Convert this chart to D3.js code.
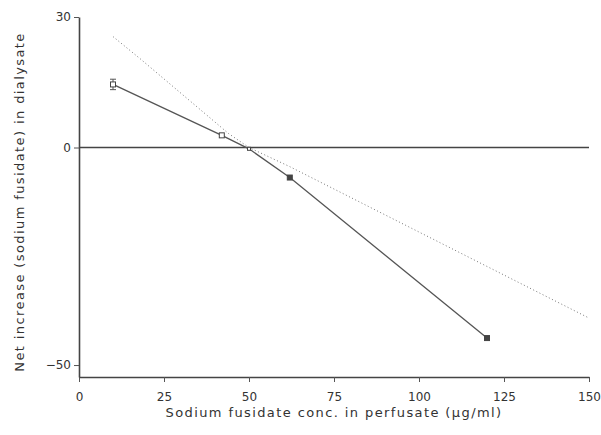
<!DOCTYPE html>
<html>
<head>
<meta charset="utf-8">
<script src="https://cdn.jsdelivr.net/npm/d3@7"></script>
<style>
  body { margin: 0; background: #fff; }
  svg { display: block; }
  text { font-family: "DejaVu Sans", sans-serif; fill: #333; }
</style>
</head>
<body>
<svg width="601" height="435"></svg>
<script>
// measured points (x = perfusate conc., y = net increase in dialysate)
const concs = [10, 42, 50, 62, 120];
const netIncrease = [14.5, 2.8, -0.3, -6.9, -43.8];
const errors = [1.2, 0, 0, 0, 0];
const symbols = ["open", "open", "tiny", "filled", "filled"];

// dotted reference curve
const refX = [10, 18, 44, 50, 62, 150];
const refY = [25.5, 20.4, 3.2, 0, -4.4, -39.2];

const xTicks = [0, 25, 50, 75, 100, 125, 150];
const yTicks = [-50, 0, 30];

const svg = d3.select("svg");

const x = d3.scaleLinear().domain([0, 150]).range([79, 589]);
const y = d3.scaleLinear().domain([-52.75, 30]).range([377, 17]);

// axes
const xAxis = svg.append("g")
    .attr("transform", `translate(0,${y(-52.75)})`)
    .call(d3.axisBottom(x).tickValues(xTicks).tickSize(5).tickSizeOuter(0));
const yAxis = svg.append("g")
    .attr("transform", `translate(${x(0)},0)`)
    .call(d3.axisLeft(y).tickValues(yTicks).tickSize(5).tickSizeOuter(0));

[xAxis, yAxis].forEach(g => {
  g.select(".domain").attr("stroke", "#444").attr("stroke-width", 1.6);
  g.selectAll(".tick line").attr("stroke", "#555");
  g.selectAll(".tick text")
    .style("font-family", "'DejaVu Sans', sans-serif")
    .style("font-size", "12px")
    .attr("fill", "#444");
});
xAxis.selectAll(".tick text").attr("dy", "1.3em");

// zero line
svg.append("line")
    .attr("x1", x(0)).attr("x2", x(150))
    .attr("y1", y(0)).attr("y2", y(0))
    .attr("stroke", "#444").attr("stroke-width", 1.4);

// dotted reference
const refData = refX.map((v, i) => ({x: v, y: refY[i]}));
svg.append("path")
    .datum(refData)
    .attr("fill", "none")
    .attr("stroke", "#777")
    .attr("stroke-width", 1)
    .attr("stroke-dasharray", "1,2.5")
    .attr("d", d3.line().x(d => x(d.x)).y(d => y(d.y)));

// measured line
const data = concs.map((v, i) => ({x: v, y: netIncrease[i], e: errors[i], s: symbols[i]}));
svg.append("path")
    .datum(data)
    .attr("fill", "none")
    .attr("stroke", "#555")
    .attr("stroke-width", 1.3)
    .attr("d", d3.line().x(d => x(d.x)).y(d => y(d.y)));

// error bars
data.filter(d => d.e > 0).forEach(d => {
  const g = svg.append("g").attr("stroke", "#555").attr("stroke-width", 1);
  g.append("line").attr("x1", x(d.x)).attr("x2", x(d.x))
    .attr("y1", y(d.y + d.e)).attr("y2", y(d.y - d.e));
  [d.y + d.e, d.y - d.e].forEach(v => {
    g.append("line").attr("x1", x(d.x) - 3).attr("x2", x(d.x) + 3)
      .attr("y1", y(v)).attr("y2", y(v));
  });
});

// symbols
svg.selectAll(".pt")
  .data(data)
  .enter().append("rect")
    .attr("class", "pt")
    .attr("x", d => x(d.x) - (d.s === "tiny" ? 1.5 : 2.5))
    .attr("y", d => y(d.y) - (d.s === "tiny" ? 1.5 : 2.5))
    .attr("width", d => d.s === "tiny" ? 3 : 5)
    .attr("height", d => d.s === "tiny" ? 3 : 5)
    .attr("fill", d => d.s === "filled" ? "#444" : "#fff")
    .attr("stroke", "#444")
    .attr("stroke-width", 1);

// axis titles
svg.append("text")
    .attr("x", 334).attr("y", 417)
    .attr("text-anchor", "middle")
    .style("font-size", "13px")
    .style("letter-spacing", "1.4px")
    .text("Sodium fusidate conc. in perfusate (µg/ml)");

svg.append("text")
    .attr("transform", "translate(24,202) rotate(-90)")
    .attr("text-anchor", "middle")
    .style("font-size", "13px")
    .style("letter-spacing", "1.4px")
    .text("Net increase (sodium fusidate) in dialysate");
</script>
</body>
</html>
